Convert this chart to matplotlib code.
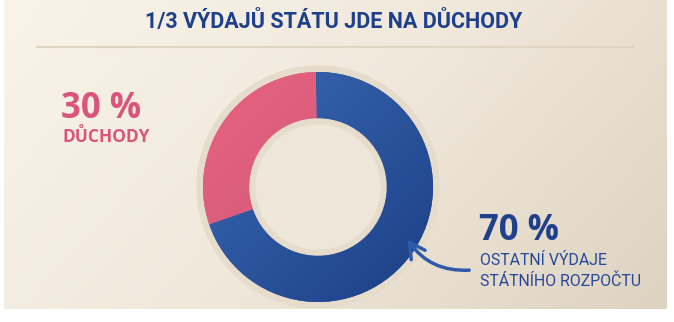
import matplotlib
matplotlib.use("Agg")
import matplotlib.pyplot as plt
import numpy as np
from matplotlib.patches import Circle, Wedge, FancyArrowPatch
from matplotlib.colors import LinearSegmentedColormap

# data
labels = ["DŮCHODY", "OSTATNÍ VÝDAJE\nSTÁTNÍHO ROZPOČTU"]
values = [30, 70]
title = "1/3 VÝDAJŮ STÁTU JDE NA DŮCHODY"

pink = "#d9557b"
blue = "#1f418c"

W, H = 674, 322
fig = plt.figure(figsize=(W / 100, H / 100), dpi=100)
fig.patch.set_facecolor("white")
ax = fig.add_axes([0, 0, 1, 1])

# background panel with soft diagonal gradient
gx, gy = np.meshgrid(np.linspace(0, 1, 200), np.linspace(0, 1, 100))
g = (gx * 0.7 + gy * 0.3)
bg = LinearSegmentedColormap.from_list("bg", ["#f9f3e9", "#f0e8db", "#ded3c1"])
ax.imshow(g, cmap=bg, extent=[4, 667, 13, H], origin="upper", aspect="auto", zorder=0)

# donut
cx, cy = 318, H - 187
r_out, r_in = 115, 68
ax.add_patch(Circle((cx, cy), r_out + 6, color="#e6dccb", zorder=1))
wedges, _ = ax.pie(values, startangle=91, counterclock=True, center=(cx, cy), radius=r_out,
                   wedgeprops=dict(width=r_out - r_in, linewidth=0), colors=[pink, blue],
                   frame=True)
ax.set_xlim(0, W)
ax.set_ylim(0, H)
ax.set_aspect("equal")
ax.axis("off")
for w in wedges:
    w.set_zorder(2)

# gradient fills clipped to the wedges
dx, dy = np.meshgrid(np.linspace(0, 1, 100), np.linspace(0, 1, 100))
dg = (dx + dy) / 2
cmaps = [LinearSegmentedColormap.from_list("p", ["#e8637f", "#c5557a"]),
         LinearSegmentedColormap.from_list("b", ["#3b6ab5", "#1b3f86"])]
for w, cm in zip(wedges, cmaps):
    im = ax.imshow(dg, cmap=cm, extent=[cx - r_out, cx + r_out, cy - r_out, cy + r_out],
                   origin="upper", zorder=3)
    im.set_clip_path(w)

ax.add_patch(Wedge((cx, cy), r_in, 0, 360, width=6, color="#e6dccb", zorder=4))
ax.add_patch(Circle((cx, cy), r_in - 6, color="#eee6d9", zorder=4))

# title + rule
ax.text(334, H - 22, title, ha="center", va="center", fontsize=15.5, fontweight="bold",
        color="#1e3f8a", family=["Roboto", "DejaVu Sans"], zorder=5)
ax.plot([37, 633], [H - 47, H - 47], color="#e0d5c3", lw=1.5, zorder=2)

# labels
ax.text(61, H - 109, "30 %", ha="left", va="center", fontsize=25, fontweight="bold",
        color=pink, family=["Open Sans", "DejaVu Sans"], zorder=5)
ax.text(62, H - 137, labels[0], ha="left", va="center", fontsize=12.5, fontweight="bold",
        color=pink, family=["Open Sans", "DejaVu Sans"], zorder=5)

ax.text(479, H - 231, "70 %", ha="left", va="center", fontsize=25, fontweight="bold",
        color=blue, family=["Open Sans", "DejaVu Sans"], zorder=5)
ax.text(480, H - 271, labels[1], ha="left", va="center", fontsize=11.4, linespacing=1.4,
        color="#24489a", family=["Roboto", "DejaVu Sans"], zorder=5)

# arrow
arr = FancyArrowPatch((472, H - 270), (406, H - 237), connectionstyle="arc3,rad=-0.3",
                      arrowstyle="->,head_length=11,head_width=6", color="#2f5aa8",
                      lw=2.5, zorder=6, capstyle="round")
ax.add_patch(arr)

fig.savefig("out.png", dpi=100, facecolor="white")
